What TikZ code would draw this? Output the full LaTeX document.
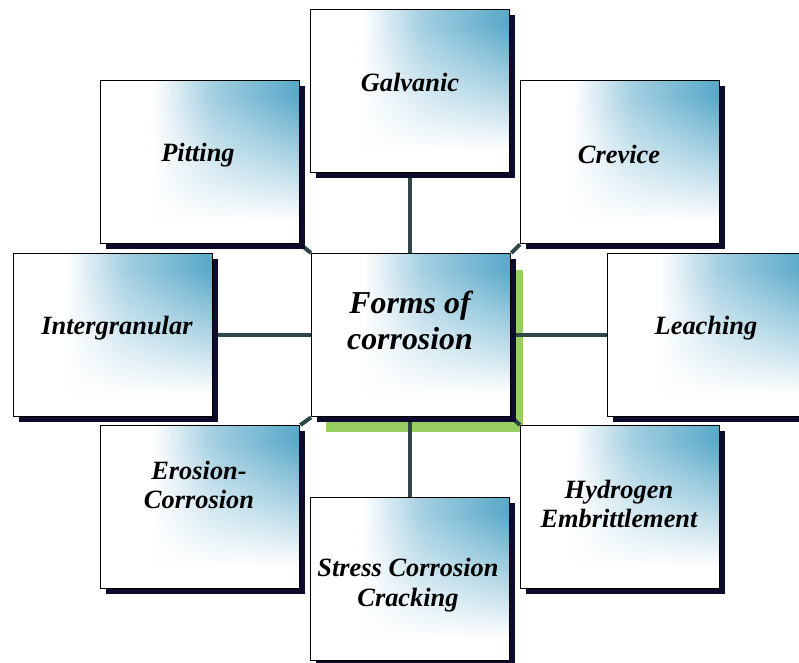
\documentclass[tikz,border=0pt]{standalone}
\usepackage{fontspec}
\setmainfont{Liberation Serif}
\usetikzlibrary{shadows,fadings,backgrounds}

\definecolor{boxblue}{RGB}{88,168,200}
\definecolor{shadownavy}{RGB}{14,12,44}
\definecolor{linkgray}{RGB}{46,70,72}
\definecolor{halogreen}{RGB}{152,206,98}

% white-to-blue ramp across each box (25bp..75bp is laid onto the box)
\pgfdeclarehorizontalshading{boxshade}{100bp}{%
  color(0bp)=(white); color(25bp)=(white); color(38bp)=(white);
  color(53bp)=(boxblue!55); color(75bp)=(boxblue); color(100bp)=(boxblue)}
% mask: opaque along the bottom, clear from the middle upwards
\pgfdeclareverticalshading{whitenmask}{100bp}{%
  color(0bp)=(white); color(25bp)=(white); color(41bp)=(white);
  color(60bp)=(black); color(75bp)=(black); color(100bp)=(black)}
\begin{tikzfadingfrompicture}[name=bottomwhite]
  \shade[shading=whitenmask] (-50bp,-50bp) rectangle (50bp,50bp);
\end{tikzfadingfrompicture}

\tikzset{
  boxnode/.style={rectangle, draw=black, line width=1.4bp,
    minimum width=199bp, minimum height=163bp, inner sep=0pt,
    anchor=north west, shade, shading=boxshade,
    general shadow={fill=shadownavy, shadow xshift=5bp, shadow yshift=-5bp},
    path picture={\fill[white, path fading=bottomwhite]
      (path picture bounding box.south west) rectangle
      (path picture bounding box.north east);}},
  halobox/.style={rectangle, fill=halogreen, draw=none, inner sep=0pt,
    minimum width=197bp, minimum height=162bp, anchor=north west},
  boxtext/.style={font=\fontsize{26.5}{30}\selectfont\bfseries\itshape,
    align=center, inner sep=0pt, text=black},
  coretext/.style={boxtext, font=\fontsize{32}{36}\selectfont\bfseries\itshape},
  link/.style={draw=linkgray, line width=4.5bp},
  diaglink/.style={draw=linkgray, line width=4bp},
}

\begin{document}
\begin{tikzpicture}[x=1bp, y=-1bp]
  \useasboundingbox (0,0) rectangle (799,663);
  \clip (0,0) rectangle (799,663);

  % the central box and the eight forms around it
  \node[boxnode] (galv)    at (310,9)   {};
  \node[boxnode] (pit)     at (100,80)  {};
  \node[boxnode] (crev)    at (520,80)  {};
  \node[boxnode] (inter)   at (13,253)  {};
  \node[boxnode] (leach)   at (607,253) {};
  \node[boxnode] (eros)    at (100,425) {};
  \node[boxnode] (hydro)   at (520,425) {};
  \node[boxnode] (stress)  at (310,497) {};
  \node[boxnode] (core)    at (311,253) {};

  % green backing plate and the links, all behind the boxes
  \begin{pgfonlayer}{background}
    \node[halobox] (halo) at (326,270) {};
    \draw[link] (galv.south) -- (galv.south |- core.north);
    \draw[link] (stress.north) -- (stress.north |- core.south);
    \draw[link] (inter.east) -- (core.west);
    \draw[link] (core.east) -- (leach.west);
    \draw[diaglink] (pit.south east) -- (core.north west);
    \draw[diaglink] (crev.south west) -- (core.north east);
    \draw[diaglink] (eros.north east) -- (core.south west);
    \draw[diaglink] (hydro.north west) -- (core.south east);
  \end{pgfonlayer}

  % labels
  \node[boxtext]  (t-galv)   at (410,82)  {Galvanic};
  \node[boxtext]  (t-pit)    at (198,155) {Pitting};
  \node[boxtext]  (t-crev)   at (619,154) {Crevice};
  \node[boxtext]  (t-inter)  at (117,328) {Intergranular};
  \node[boxtext]  (t-leach)  at (706,328) {Leaching};
  \node[coretext] (t-core)   at (410,320) {Forms of\\corrosion};
  \node[boxtext]  (t-eros)   at (199,485) {Erosion-\\Corrosion};
  \node[boxtext]  (t-hydro)  at (619,504) {Hydrogen\\Embrittlement};
  \node[boxtext]  (t-stress) at (408,585) {Stress Corrosion\\Cracking};
\end{tikzpicture}
\end{document}
